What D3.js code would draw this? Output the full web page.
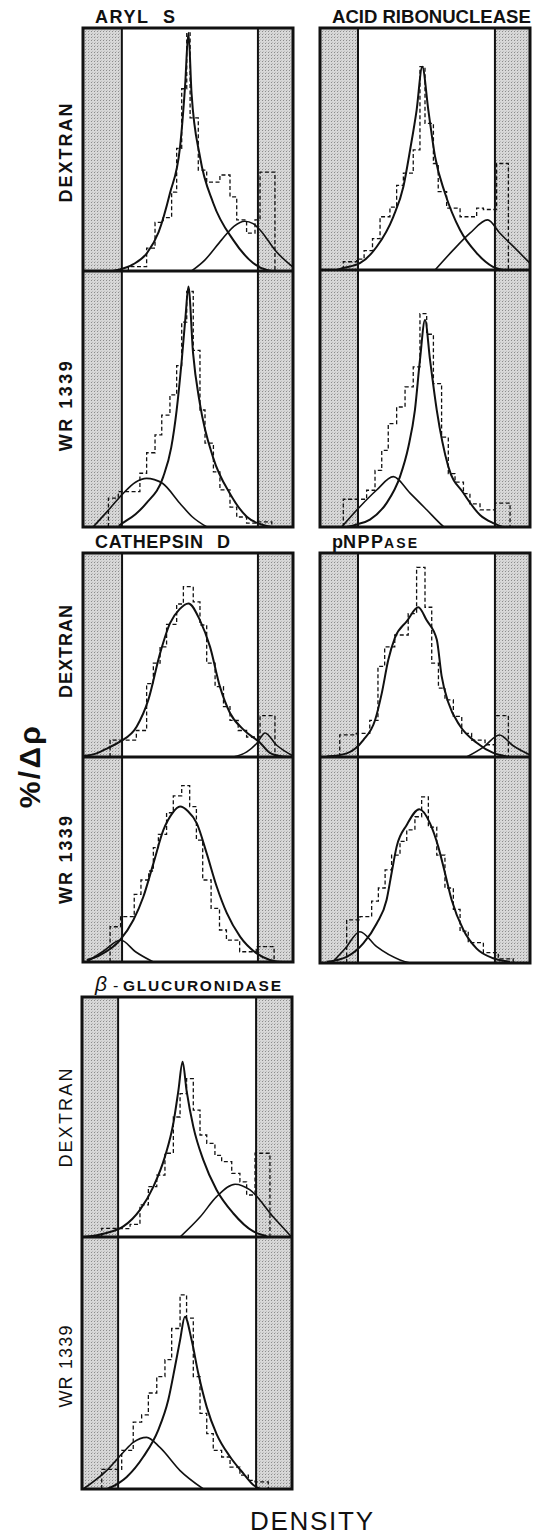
<!DOCTYPE html>
<html>
<head>
<meta charset="utf-8">
<script src="https://cdn.jsdelivr.net/npm/d3@7"></script>
<style>
  body { margin: 0; background: #fff; }
  svg { display: block; }
  text { font-family: "Liberation Sans", Arial, sans-serif; fill: #111; }
</style>
</head>
<body>
<svg id="canvas" width="534" height="1536"></svg>
<script>
// x values: density, as % of the gradient width shown; y values: % of panel height

// ARYL S
const arylShade = [18.5, 83.3];
const arylDexEdges = [21.6, 30.3, 34.3, 38.2, 42.2, 44.6, 47.0, 49.4, 51.0, 54.9, 58.9, 65.2, 70.0, 73.2, 77.9, 81.9, 84.3, 91.4];
const arylDexHist = [1.8, 9.4, 20, 22, 32.5, 50.5, 75, 98, 63, 41.5, 36.6, 39.5, 30.5, 21, 15.6, 21, 40.7];
const arylDexMain = [[14, 0], [17, 0.5], [23.8, 2.7], [30.5, 7.4], [36, 16], [41.4, 32], [46.2, 51], [48.6, 76], [50.2, 98], [51.7, 73], [55.7, 47], [62, 28], [71.5, 12.8], [81, 3.3], [87.6, 0.4], [90, 0]];
const arylDexSide = [[51.7, 0], [58, 4.5], [66, 12.8], [72, 18.5], [77, 20.5], [81, 19.5], [84.3, 16.9], [92, 8], [100, 1.6]];
const arylWrEdges = [12.1, 16.8, 27.1, 30.3, 34.3, 37.5, 41.4, 44.6, 47.0, 49.4, 52.5, 55.7, 58.1, 62.1, 65.2, 70.0, 73.2, 77.9, 83.5, 89.9];
const arylWrHist = [11.3, 13.8, 21, 29, 36, 43.7, 51.6, 63, 80, 92, 69, 45.7, 32.8, 21.5, 14.5, 7.8, 3.9, 1.5, 2];
const arylWrMain = [[17, 0.5], [19, 1.6], [25, 5], [30.3, 9.4], [38.2, 19.6], [42, 31], [44.6, 45.7], [47, 65], [48.8, 82], [50.2, 93.9], [52.4, 68], [55.7, 48], [62, 27], [70, 13], [78, 4], [85.7, 0.8], [90, 0]];
const arylWrSide = [[4.8, 0], [12, 6.5], [19, 13], [25, 17.5], [30.3, 19], [34, 18.5], [38, 17], [46, 9.4], [52, 4], [59, 0]];

// ACID RIBONUCLEASE
const ribShade = [18.1, 83.3];
const ribDexEdges = [11.1, 17.5, 21, 25, 28.6, 33.3, 36.5, 39.7, 44.4, 47.6, 50, 54, 56.3, 60.3, 66.7, 74.6, 77.8, 84.1, 89.7];
const ribDexHist = [3.4, 4.5, 8, 13, 22, 26, 35, 40, 49.6, 84, 60.6, 44, 32.4, 25.6, 22, 25.6, 25, 44];
const ribDexMain = [[8, 0], [11, 0.8], [19, 2.8], [27, 9.6], [34.9, 22], [39.7, 34.4], [42.9, 49.6], [46, 66], [48.7, 84], [51.6, 66], [54.8, 46.8], [59.5, 31.8], [66.7, 16.5], [74.6, 7], [82.4, 1.3], [87, 0]];
const ribDexSide = [[54.8, 0], [63.5, 8.3], [71.4, 15.2], [79.8, 20.7], [85.7, 15.2], [93.7, 8.3], [100, 2.8]];
const ribWrEdges = [11.1, 22.2, 26.2, 29.4, 32.5, 36.5, 40.5, 44.4, 47.6, 50.8, 54, 57.9, 61.1, 64.3, 68.3, 71.4, 76.2, 83.3, 90.5];
const ribWrHist = [10.8, 14.3, 22, 29.8, 40.2, 46.7, 54.5, 62.3, 83, 75, 55.8, 35, 20.8, 17.5, 13, 9, 6.7, 9.3];
const ribWrMain = [[12.7, 0], [17.5, 1], [23.8, 2.9], [31.7, 9.3], [38.1, 19.6], [42.1, 31.2], [45.2, 45.5], [47.6, 65], [50, 80.5], [52.4, 65], [55.6, 45.5], [61.1, 23.5], [68.3, 13.2], [76.2, 4.7], [82.5, 1.5], [87, 0]];
const ribWrSide = [[10.3, 0], [19, 7.9], [27, 14.4], [34.9, 19.6], [42.9, 13.2], [50.8, 6.7], [57.9, 0.8], [59, 0]];

// CATHEPSIN D
const cathShade = [18.6, 83.3];
const cathDexEdges = [12.9, 25.4, 30.3, 33.5, 36.7, 39.8, 44.6, 47.8, 52.5, 55.7, 58.9, 62.9, 66.9, 70, 73.9, 77.9, 84.3, 91.4];
const cathDexHist = [8.3, 13, 36, 46, 54, 65, 75, 83.5, 76, 64.7, 46, 34.5, 24.7, 18, 13, 9.8, 20.3];
const cathDexMain = [[0, 0.5], [6.5, 1.8], [12, 4.5], [17.6, 7.5], [25.6, 15], [31.1, 28], [36.7, 50.8], [41.4, 65.5], [46, 72.5], [50.2, 75.3], [55.7, 67], [60.5, 54], [65.2, 34.5], [70, 21.6], [76.4, 13.4], [84.3, 7], [89, 2], [95, 0.3], [100, 0]];
const cathDexSide = [[71.5, 0], [78, 2.5], [83, 7], [86.7, 11.8], [92, 6], [100, 0.5]];
const cathWrEdges = [12.9, 17.9, 24.4, 27.6, 31.3, 33.5, 35.9, 39.8, 43, 47, 50.8, 54, 57, 61, 65, 68.3, 74.6, 82.5, 91];
const cathWrHist = [17.2, 22.1, 33, 40, 44.4, 55.8, 62.3, 72.8, 81, 86, 75.8, 59.5, 40, 26.2, 15.6, 10.7, 5, 7.5];
const cathWrMain = [[1.8, 1], [8.1, 3.4], [17.6, 10.7], [24, 20.5], [28.7, 31.7], [33.5, 48], [38.3, 64.4], [42.5, 72.5], [46.2, 75.8], [50, 73.5], [54.2, 67.6], [58.9, 53], [63.7, 36.7], [68.5, 23.8], [74.8, 12.4], [82.7, 4.2], [89, 1], [95, 0]];
const cathWrSide = [[1.8, 0], [10, 5.5], [17.9, 10.7], [25, 5], [33.5, 0]];

// pNPPASE
const pnpShade = [18.1, 83.3];
const pnpDexEdges = [9.4, 17.3, 23.7, 27.6, 30.8, 35.6, 42, 46, 50, 53.2, 56.4, 59.5, 63.5, 67.5, 72.2, 78.6, 83.3, 89.7];
const pnpDexHist = [10.8, 11.6, 18, 44.4, 54, 59.8, 70.3, 93, 73.4, 46, 33.8, 28, 19.9, 11.6, 8.3, 6, 20.3];
const pnpDexMain = [[3.2, 0.2], [12.7, 1.8], [20.6, 8.3], [26.2, 18], [29.4, 31.2], [32.5, 47.5], [35.7, 58.5], [41.3, 66.5], [46.8, 73.4], [50.8, 67], [55.6, 57.6], [57.9, 39.8], [61.1, 26.7], [66.7, 15.2], [74.6, 7], [82.5, 2], [88.9, 0.3]];
const pnpDexSide = [[69.8, 0], [78, 5], [85.4, 10.8], [92, 5.5], [100, 1]];
const pnpWrEdges = [12.7, 19, 24.6, 27.8, 31, 34.1, 38.1, 41.3, 45.2, 48.4, 51.6, 55.6, 59.5, 63.5, 66.7, 70.6, 77.8, 84.9, 92];
const pnpWrHist = [20.9, 22.5, 30, 36.4, 45.2, 52.4, 59, 64.6, 71, 80.6, 66, 52.4, 36.4, 26, 15.5, 9.9, 5, 2];
const pnpWrMain = [[3.2, 0.6], [12.7, 3], [20.6, 9.5], [27, 19.2], [31.7, 30.6], [34.1, 43.7], [36.5, 56.5], [41.3, 67], [47.3, 74.6], [52.4, 67.8], [56.3, 56.5], [59.5, 43.7], [62.7, 30.6], [68.3, 16], [74.6, 7], [82.5, 2.3], [90.5, 0.6]];
const pnpWrSide = [[5.6, 0], [12, 7], [19, 15.2], [27, 7.9], [38.1, 1.5], [42.9, 0]];

// β-GLUCURONIDASE
const glucShade = [17.2, 82.9];
const glucDexEdges = [9.4, 17.3, 22.9, 27.6, 31.6, 35.6, 39.5, 43.5, 46.7, 49.8, 53, 56.2, 59.4, 63.3, 66.5, 71.3, 75.2, 78.4, 82.4, 89.5];
const glucDexHist = [3.6, 3.5, 5.3, 13.4, 21, 25.8, 34.9, 50, 59.7, 66, 52.9, 42.5, 39, 34, 31.4, 26.5, 23, 17.5, 34.9];
const glucDexMain = [[0.6, 0], [11.7, 1.7], [19.7, 4.4], [27.6, 11.3], [34, 21], [39.5, 33.5], [43.5, 47.4], [45.9, 61], [47.9, 73], [49.8, 61], [53, 46], [57.8, 32], [64.1, 19.6], [72, 9.9], [81.6, 2.3], [87.9, 0.4]];
const glucDexSide = [[46.7, 0], [56.2, 8.3], [64.1, 16.8], [72.9, 22], [80, 19.6], [91.1, 8.3], [99.8, 0]];
const glucWrEdges = [9.4, 18.9, 24.4, 28.4, 31.6, 35.6, 39.5, 42.7, 46.7, 49.8, 53, 56.2, 59.4, 62.5, 66.5, 70.5, 75.2, 79.2, 82.4, 88.7];
const glucWrHist = [7.8, 15.3, 26.5, 29.4, 38.1, 44.6, 51.3, 63.7, 77, 67.8, 44.6, 30, 22, 15.3, 12.7, 8.7, 5.5, 3.4, 2.8];
const glucWrMain = [[12, 0], [14.1, 0.8], [21.3, 4.8], [29.2, 12.8], [36.3, 23.4], [41.1, 35.4], [44.3, 48.6], [46.7, 59.1], [49, 68.4], [52.2, 59.1], [55.4, 45.8], [59.4, 32.5], [64.1, 21.8], [70.5, 12.8], [76.8, 6.2], [81.6, 1.6], [85, 0]];
const glucWrSide = [[0.6, 0], [11.7, 7.3], [19.7, 14.6], [24.4, 18.5], [30.8, 20.5], [37.1, 16.5], [46.7, 7.3], [57.8, 0]];

const rowLabels = ["DEXTRAN", "WR 1339"];

const enzymes = [
  {shade: arylShade, box: {x: 83, top: 28, mid: 271, bottom: 527},
   sets: [[arylDexEdges, arylDexHist, arylDexMain, arylDexSide], [arylWrEdges, arylWrHist, arylWrMain, arylWrSide]],
   labels: [{y: 152, len: 99}, {y: 405, len: 90}], bold: true},
  {shade: ribShade, box: {x: 320, top: 28, mid: 270, bottom: 527},
   sets: [[ribDexEdges, ribDexHist, ribDexMain, ribDexSide], [ribWrEdges, ribWrHist, ribWrMain, ribWrSide]]},
  {shade: cathShade, box: {x: 83, top: 553, mid: 757, bottom: 962},
   sets: [[cathDexEdges, cathDexHist, cathDexMain, cathDexSide], [cathWrEdges, cathWrHist, cathWrMain, cathWrSide]],
   labels: [{y: 651, len: 93}, {y: 859, len: 88}], bold: true},
  {shade: pnpShade, box: {x: 320, top: 553, mid: 757, bottom: 963},
   sets: [[pnpDexEdges, pnpDexHist, pnpDexMain, pnpDexSide], [pnpWrEdges, pnpWrHist, pnpWrMain, pnpWrSide]]},
  {shade: glucShade, box: {x: 82, top: 997, mid: 1237, bottom: 1489},
   sets: [[glucDexEdges, glucDexHist, glucDexMain, glucDexSide], [glucWrEdges, glucWrHist, glucWrMain, glucWrSide]],
   labels: [{y: 1117, len: 99}, {y: 1366, len: 82}], bold: false}
];

const boxW = 210;
const svg = d3.select("#canvas");

const pat = svg.append("defs").append("pattern")
  .attr("id", "stipple").attr("width", 3).attr("height", 3)
  .attr("patternUnits", "userSpaceOnUse");
pat.append("rect").attr("width", 3).attr("height", 3).attr("fill", "#d7d7d7");
pat.append("rect").attr("x", 1).attr("y", 1).attr("width", 1).attr("height", 1).attr("fill", "#8c8c8c");
pat.append("rect").attr("x", 2).attr("y", 0).attr("width", 1).attr("height", 1).attr("fill", "#bdbdbd");

let clipId = 0;

function drawPanel(g, x0, y0, y1, shade, set) {
  const [edges, hist, main, side] = set;
  const x = d3.scaleLinear().domain([0, 100]).range([x0, x0 + boxW]);
  const y = d3.scaleLinear().domain([0, 100]).range([y1, y0]);

  g.append("rect").attr("x", x(0)).attr("y", y0)
    .attr("width", x(shade[0]) - x(0)).attr("height", y1 - y0)
    .attr("fill", "url(#stipple)");
  g.append("rect").attr("x", x(shade[1])).attr("y", y0)
    .attr("width", x(100) - x(shade[1])).attr("height", y1 - y0)
    .attr("fill", "url(#stipple)");

  const id = "clip" + (clipId++);
  g.append("clipPath").attr("id", id).append("rect")
    .attr("x", x(0)).attr("y", y0).attr("width", boxW).attr("height", y1 - y0);
  const inner = g.append("g").attr("clip-path", `url(#${id})`);

  const n = edges.length - 1;
  const histPts = [[edges[0], 0]]
    .concat(hist.map((v, i) => [edges[i], v]))
    .concat([[edges[n], hist[n - 1]], [edges[n], 0]]);

  inner.append("path")
    .attr("d", d3.line().x(d => x(d[0])).y(d => y(d[1])).curve(d3.curveStepAfter)(histPts))
    .attr("fill", "none").attr("stroke", "#111")
    .attr("stroke-width", 1.3).attr("stroke-dasharray", "4,2.5");

  const curve = d3.line().x(d => x(d[0])).y(d => y(d[1])).curve(d3.curveMonotoneX);
  inner.append("path").attr("d", curve(side))
    .attr("fill", "none").attr("stroke", "#111").attr("stroke-width", 1.6);
  inner.append("path").attr("d", curve(main))
    .attr("fill", "none").attr("stroke", "#111").attr("stroke-width", 2);

  shade.forEach(s => {
    g.append("line").attr("x1", x(s)).attr("x2", x(s)).attr("y1", y0).attr("y2", y1)
      .attr("stroke", "#111").attr("stroke-width", 2);
  });
}

// squeeze a text to a width with a scale, or open it up with letter spacing
function fit(t, len, tx, ty, rot) {
  const w = t.node().getComputedTextLength();
  const n = t.text().length;
  let tr = `translate(${tx},${ty})` + (rot ? ` rotate(${rot})` : "");
  if (w > len) tr += ` scale(${len / w},1)`;
  else if (n > 1) t.attr("letter-spacing", (len - w) / (n - 1));
  t.attr("transform", tr);
  return t;
}

enzymes.forEach(e => {
  const g = svg.append("g");
  const b = e.box;
  drawPanel(g, b.x, b.top, b.mid, e.shade, e.sets[0]);
  drawPanel(g, b.x, b.mid, b.bottom, e.shade, e.sets[1]);

  g.append("rect").attr("x", b.x).attr("y", b.top)
    .attr("width", boxW).attr("height", b.bottom - b.top)
    .attr("fill", "none").attr("stroke", "#111").attr("stroke-width", 3);
  g.append("line").attr("x1", b.x).attr("x2", b.x + boxW).attr("y1", b.mid).attr("y2", b.mid)
    .attr("stroke", "#111").attr("stroke-width", 3);

  if (e.labels) {
    e.labels.forEach((l, i) => {
      const t = svg.append("text")
        .attr("text-anchor", "middle")
        .attr("font-size", 18)
        .attr("font-weight", e.bold ? "bold" : "normal")
        .text(rowLabels[i]);
      fit(t, l.len, 72, l.y, -90);
    });
  }
});

// panel titles, x is the left edge, yb the baseline
function title(txt, x, yb, size, len, opts = {}) {
  const t = svg.append("text")
    .attr("font-size", size).attr("font-weight", opts.weight || "bold")
    .attr("font-style", opts.style || "normal")
    .text(txt);
  return fit(t, len, x, yb);
}
title("ARYL", 95, 23, 18, 53);
title("S", 163, 23, 18, 14);
title("ACID RIBONUCLEASE", 332, 23, 19, 199);
title("CATHEPSIN", 95, 548, 18, 108);
title("D", 217, 548, 18, 13);
title("p", 332, 548, 18, 11);
title("NPP", 343, 548, 18, 40);
title("ASE", 384, 548, 14, 33);
title("β", 95, 991, 21, 17, {style: "italic", weight: "normal"});
title("-", 113, 991, 16, 8, {weight: "normal"});
title("GLUCURONIDASE", 123, 991, 15.5, 158);

const yLab = svg.append("text")
  .attr("text-anchor", "middle")
  .attr("font-size", 30).attr("font-weight", "bold")
  .text("%/Δρ");
fit(yLab, 82, 40, 766, -90);

const xLab = svg.append("text")
  .attr("font-size", 26)
  .text("DENSITY");
fit(xLab, 123, 250, 1530);
</script>
</body>
</html>
